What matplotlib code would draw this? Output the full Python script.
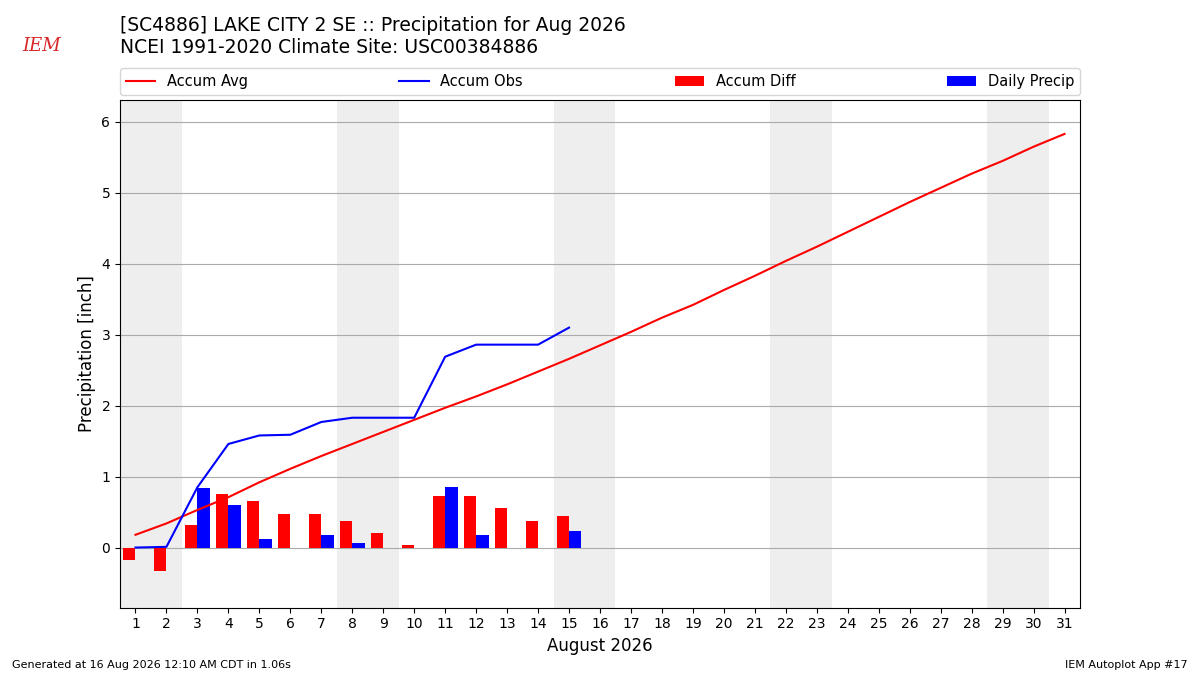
import numpy as np
import matplotlib
matplotlib.use("Agg")
import matplotlib.pyplot as plt

# data
days = list(range(1, 32))
accum_avg = [0.18, 0.34, 0.53, 0.71, 0.92, 1.11, 1.29, 1.46, 1.63, 1.80,
             1.97, 2.13, 2.30, 2.48, 2.66, 2.85, 3.04, 3.24, 3.42, 3.63,
             3.83, 4.04, 4.24, 4.45, 4.66, 4.87, 5.07, 5.27, 5.45, 5.65, 5.83]
obs_days = list(range(1, 16))
accum_obs = [0.00, 0.01, 0.85, 1.46, 1.58, 1.59, 1.77, 1.83, 1.83, 1.83,
             2.69, 2.86, 2.86, 2.86, 3.10]
accum_diff = [-0.18, -0.33, 0.32, 0.75, 0.66, 0.48, 0.48, 0.37, 0.20, 0.03,
              0.72, 0.73, 0.56, 0.38, 0.44]
daily_precip = [0.00, 0.00, 0.84, 0.60, 0.12, 0.00, 0.18, 0.06, 0.00, 0.00,
                0.86, 0.17, 0.00, 0.00, 0.24]
weekends = [(1, 2), (8, 9), (15, 16), (22, 23), (29, 30)]

fig = plt.figure(figsize=(12, 6.75), dpi=100)
ax = fig.add_axes([0.1, 0.1, 0.8, 0.752])

#weekend shading
for start, end in weekends:
    ax.axvspan(start - 0.5, end + 0.5, color="#eeeeee", zorder=0, lw=0)

ax.plot(days, accum_avg, color="r", label="Accum Avg", zorder=3)
ax.plot(obs_days, accum_obs, color="b", label="Accum Obs", zorder=3)
ax.bar(np.array(obs_days) - 0.2, accum_diff, width=0.4, color="r",
       label="Accum Diff", zorder=2)
ax.bar(np.array(obs_days) + 0.2, daily_precip, width=0.4, color="b",
       label="Daily Precip", zorder=2)

ax.set_xlim(0.5, 31.5)
ax.set_ylim(-0.845, 6.31)
ax.set_xticks(days)
ax.set_yticks(range(0, 7))
ax.grid(axis="y", color="#aaaaaa", zorder=1)
ax.set_axisbelow(True)
ax.set_xlabel("August 2026", fontsize=12)
ax.set_ylabel("Precipitation [inch]", fontsize=12)
ax.legend(bbox_to_anchor=(0, 1.01, 1, 0.05), loc="lower left",
          mode="expand", ncol=4, fontsize=10.5, borderaxespad=0)

fig.text(0.1, 0.915, "[SC4886] LAKE CITY 2 SE :: Precipitation for Aug 2026\n"
         "NCEI 1991-2020 Climate Site: USC00384886",
         fontsize=13.5, va="bottom", ha="left")
fig.text(0.035, 0.925, "IEM", color="#d62728", fontsize=13,
         family="DejaVu Serif", style="italic", ha="center")
fig.text(0.01, 0.01, "Generated at 16 Aug 2026 12:10 AM CDT in 1.06s", fontsize=8)
fig.text(0.99, 0.01, "IEM Autoplot App #17", fontsize=8, ha="right")

fig.savefig("out.png")
